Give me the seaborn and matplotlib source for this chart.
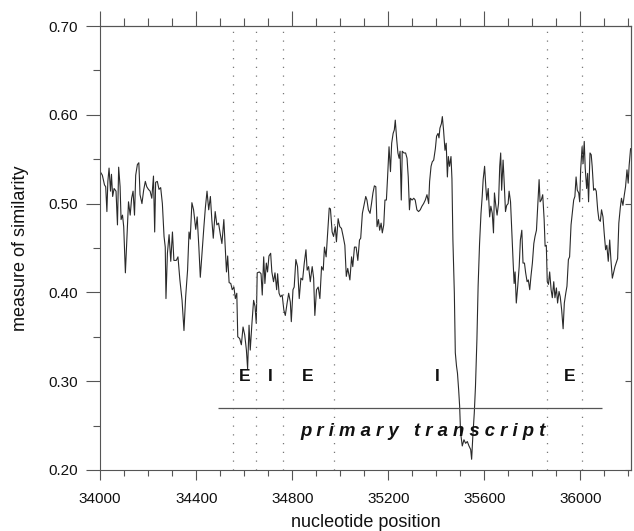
import numpy as np
import pandas as pd
import matplotlib
matplotlib.use("Agg")
import matplotlib.pyplot as plt
from matplotlib.ticker import MultipleLocator
import seaborn as sns

# ── data ─────────────────────────────────────────────────
pos = [
    34000, 34009, 34018, 34023, 34028, 34032, 34037, 34043, 34047, 34052,
    34058, 34066, 34072, 34077, 34083, 34087, 34093, 34098, 34105, 34112,
    34118, 34125, 34131, 34137, 34143, 34148, 34155, 34161, 34166, 34174,
    34181, 34188, 34194, 34201, 34208, 34215, 34222, 34227, 34231, 34238,
    34245, 34252, 34259, 34266, 34271, 34274, 34280, 34287, 34294, 34301,
    34307, 34317, 34324, 34332, 34341, 34349, 34356, 34364, 34370, 34375,
    34382, 34389, 34398, 34404, 34411, 34417, 34425, 34432, 34438, 34445,
    34452, 34459, 34465, 34471, 34479, 34486, 34493, 34500, 34507, 34515,
    34526, 34531, 34537, 34544, 34550, 34557, 34563, 34569, 34573, 34581,
    34588, 34595, 34602, 34609, 34614, 34620, 34625, 34632, 34639, 34645,
    34650, 34654, 34663, 34670, 34675, 34681, 34686, 34692, 34697, 34703,
    34710, 34715, 34722, 34728, 34735, 34739, 34745, 34751, 34758, 34765,
    34771, 34778, 34785, 34792, 34796, 34803, 34808, 34815, 34822, 34829,
    34836, 34843, 34850, 34857, 34862, 34868, 34875, 34883, 34889, 34894,
    34901, 34908, 34915, 34922, 34929, 34934, 34941, 34947, 34954, 34959,
    34966, 34972, 34979, 34984, 34991, 34998, 35005, 35012, 35019, 35025,
    35031, 35040, 35047, 35052, 35059, 35066, 35073, 35080, 35085, 35092,
    35100, 35106, 35111, 35117, 35124, 35130, 35136, 35142, 35148, 35153,
    35159, 35164, 35170, 35175, 35181, 35186, 35192, 35197, 35203, 35209,
    35214, 35220, 35225, 35229, 35235, 35240, 35245, 35249, 35254, 35258,
    35265, 35272, 35278, 35283, 35288, 35292, 35299, 35306, 35312, 35319,
    35326, 35333, 35340, 35347, 35354, 35361, 35368, 35372, 35378, 35383,
    35389, 35396, 35401, 35407, 35411, 35415, 35421, 35425, 35430, 35436,
    35441, 35446, 35450, 35455, 35461, 35465, 35469, 35475, 35479, 35484,
    35488, 35493, 35497, 35501, 35508, 35515, 35522, 35529, 35536, 35543,
    35547, 35552, 35558, 35563, 35569, 35574, 35580, 35586, 35591, 35595,
    35601, 35606, 35610, 35616, 35622, 35627, 35633, 35638,
    35642, 35648, 35653, 35659, 35664, 35668, 35672, 35678, 35682, 35688,
    35693, 35699, 35703, 35709, 35714, 35720, 35724, 35728, 35733, 35739,
    35745, 35750, 35756, 35761, 35767, 35772, 35778, 35783, 35789, 35794,
    35800, 35806, 35811, 35817, 35822, 35828, 35832, 35837, 35843, 35849,
    35853, 35858, 35862, 35867, 35872, 35878, 35883, 35889, 35894, 35900,
    35905, 35911, 35916, 35922, 35928, 35933, 35939, 35944, 35950, 35955,
    35961, 35966, 35972, 35977, 35982, 35987, 35993, 35997, 36001, 36007,
    36011, 36016, 36020, 36026, 36030, 36034, 36040, 36045, 36049, 36055,
    36061, 36066, 36072, 36077, 36083, 36088, 36094, 36099, 36105, 36110,
    36116, 36122, 36127, 36133, 36138, 36144, 36149, 36155, 36160, 36166,
    36171, 36177, 36183, 36188, 36194, 36199, 36203, 36209,
]
sim = [
    0.536, 0.532, 0.521, 0.519, 0.491, 0.525, 0.540, 0.514, 0.533, 0.508,
    0.517, 0.514, 0.476, 0.541, 0.519, 0.482, 0.487, 0.474, 0.422, 0.466,
    0.502, 0.487, 0.506, 0.514, 0.487, 0.532, 0.544, 0.546, 0.510, 0.500,
    0.515, 0.525, 0.519, 0.516, 0.514, 0.506, 0.531, 0.468, 0.524, 0.525,
    0.516, 0.518, 0.500, 0.463, 0.451, 0.393, 0.444, 0.465, 0.435, 0.468,
    0.436, 0.436, 0.440, 0.414, 0.391, 0.357, 0.395, 0.425, 0.468, 0.460,
    0.501, 0.493, 0.471, 0.485, 0.451, 0.417, 0.448, 0.474, 0.495, 0.514,
    0.493, 0.508, 0.482, 0.461, 0.491, 0.476, 0.478, 0.466, 0.455, 0.482,
    0.423, 0.441, 0.411, 0.410, 0.403, 0.406, 0.393, 0.399, 0.350, 0.348,
    0.341, 0.361, 0.352, 0.335, 0.314, 0.363, 0.335, 0.365, 0.391, 0.384,
    0.365, 0.422, 0.423, 0.421, 0.397, 0.440, 0.410, 0.433, 0.423, 0.441,
    0.444, 0.423, 0.412, 0.422, 0.403, 0.421, 0.399, 0.395, 0.397, 0.380,
    0.374, 0.387, 0.399, 0.389, 0.367, 0.403, 0.406, 0.437, 0.429, 0.393,
    0.416, 0.414, 0.433, 0.448, 0.425, 0.429, 0.412, 0.429, 0.416, 0.374,
    0.403, 0.406, 0.393, 0.429, 0.425, 0.451, 0.440, 0.466, 0.495, 0.494,
    0.468, 0.463, 0.474, 0.457, 0.483, 0.474, 0.472, 0.463, 0.453, 0.418,
    0.427, 0.414, 0.440, 0.429, 0.451, 0.451, 0.436, 0.459, 0.461, 0.489,
    0.500, 0.508, 0.504, 0.493, 0.489, 0.500, 0.512, 0.520, 0.519, 0.474,
    0.482, 0.470, 0.478, 0.467, 0.476, 0.504, 0.504, 0.530, 0.564, 0.536,
    0.568, 0.579, 0.583, 0.594, 0.572, 0.557, 0.551, 0.559, 0.504, 0.559,
    0.557, 0.557, 0.551, 0.530, 0.493, 0.506, 0.504, 0.506, 0.504, 0.493,
    0.491, 0.493, 0.497, 0.500, 0.504, 0.510, 0.500, 0.525, 0.542, 0.547,
    0.549, 0.562, 0.576, 0.579, 0.574, 0.585, 0.590, 0.598, 0.583, 0.560,
    0.568, 0.530, 0.553, 0.542, 0.553, 0.528, 0.459, 0.399, 0.332, 0.317,
    0.309, 0.290, 0.272, 0.242, 0.227, 0.234, 0.230, 0.232, 0.227, 0.223,
    0.212, 0.238, 0.264, 0.294, 0.347, 0.407, 0.455, 0.489, 0.508, 0.527,
    0.542, 0.519, 0.504, 0.517, 0.485, 0.497, 0.489, 0.467,
    0.512, 0.497, 0.487, 0.500, 0.542, 0.557, 0.515, 0.549, 0.527, 0.491,
    0.498, 0.500, 0.514, 0.502, 0.470, 0.433, 0.410, 0.423, 0.388, 0.407,
    0.429, 0.459, 0.470, 0.433, 0.433, 0.422, 0.412, 0.414, 0.403, 0.418,
    0.433, 0.455, 0.463, 0.470, 0.497, 0.527, 0.502, 0.504, 0.510, 0.482,
    0.452, 0.453, 0.412, 0.409, 0.423, 0.403, 0.394, 0.412, 0.394, 0.405,
    0.388, 0.401, 0.395, 0.380, 0.359, 0.388, 0.399, 0.407, 0.437, 0.440,
    0.476, 0.489, 0.504, 0.508, 0.530, 0.515, 0.512, 0.502, 0.538, 0.564,
    0.545, 0.570, 0.540, 0.517, 0.534, 0.502, 0.557, 0.555, 0.542, 0.515,
    0.517, 0.514, 0.493, 0.482, 0.480, 0.493, 0.485, 0.467, 0.448, 0.453,
    0.435, 0.459, 0.437, 0.416, 0.422, 0.429, 0.433, 0.438, 0.478, 0.495,
    0.506, 0.498, 0.510, 0.519, 0.538, 0.523, 0.543, 0.562,
]

# exon / intron boundaries (dotted lines) and labels
boundaries = [34555, 34650, 34760, 34975, 35860, 36005]
region_labels = ["E", "I", "E", "I", "E"]
label_pos = [34603, 34707, 34866, 35405, 35955]
label_y = 0.305
transcript_start, transcript_end, transcript_y = 34490, 36090, 0.27
transcript_text = "p r i m a r y   t r a n s c r i p t"
transcript_text_x, transcript_text_y = 35345, 0.243

x_major = [34000, 34400, 34800, 35200, 35600, 36000]
y_major = [0.20, 0.30, 0.40, 0.50, 0.60, 0.70]

df = pd.DataFrame({"position": pos, "similarity": sim})

# ── plot ─────────────────────────────────────────────────
sns.set_style("ticks")
plt.rcParams["font.family"] = ["Liberation Sans", "DejaVu Sans"]

line_col = "#2a2a2a"
axis_col = "#555555"

fig, ax = plt.subplots(figsize=(6.34, 5.31), dpi=100)
fig.subplots_adjust(left=0.158, right=0.995, bottom=0.115, top=0.951)

sns.lineplot(data=df, x="position", y="similarity", ax=ax,
             color=line_col, lw=0.8, estimator=None, sort=False)

for b in boundaries:
    ax.axvline(b, color="#777777", ls=(0, (1, 6)), lw=0.9)

ax.hlines(transcript_y, transcript_start, transcript_end, color="#555555", lw=0.9)
for lab, xp in zip(region_labels, label_pos):
    ax.text(xp, label_y, lab, ha="center", va="center",
            fontsize=12.5, fontweight="bold", color="#111111")
ax.text(transcript_text_x, transcript_text_y, transcript_text, ha="center", va="center",
        fontsize=13.3, fontweight="bold", fontstyle="italic", color="#111111")

ax.set_xlim(34000, 36210)
ax.set_ylim(0.20, 0.70)
ax.set_xticks(x_major)
ax.set_yticks(y_major)
ax.set_yticklabels([f"{v:.2f}" for v in y_major])
ax.xaxis.set_minor_locator(MultipleLocator(100))
ax.yaxis.set_minor_locator(MultipleLocator(0.05))

ax.tick_params(axis="both", which="both", color=axis_col, width=0.8,
               labelsize=11, labelcolor="#111111")
ax.tick_params(axis="x", which="major", direction="out", length=7, pad=9)
ax.tick_params(axis="x", which="minor", direction="out", length=4)
ax.tick_params(axis="y", which="major", direction="out", length=10, pad=6)
ax.tick_params(axis="y", which="minor", direction="out", length=5)

for sp in ax.spines.values():
    sp.set_visible(True)
    sp.set_color(axis_col)
    sp.set_linewidth(0.8)

top = ax.secondary_xaxis("top")
top.set_xticks(x_major)
top.xaxis.set_minor_locator(MultipleLocator(100))
top.tick_params(which="major", direction="out", length=11, color=axis_col,
                width=0.8, labeltop=False)
top.tick_params(which="minor", direction="out", length=6, color=axis_col, width=0.8)
top.spines["top"].set_color(axis_col)
top.spines["top"].set_linewidth(0.8)

right = ax.secondary_yaxis("right")
right.set_yticks(y_major)
right.tick_params(which="major", direction="in", length=4, color=axis_col,
                  width=0.8, labelright=False)
right.tick_params(which="minor", length=0)
right.spines["right"].set_color(axis_col)
right.spines["right"].set_linewidth(0.8)

ax.set_xlabel("nucleotide position", fontsize=13, labelpad=6, color="#111111")
ax.set_ylabel("measure of similarity", fontsize=13, labelpad=14, color="#111111")

plt.savefig("out.png", dpi=100)
plt.close()
